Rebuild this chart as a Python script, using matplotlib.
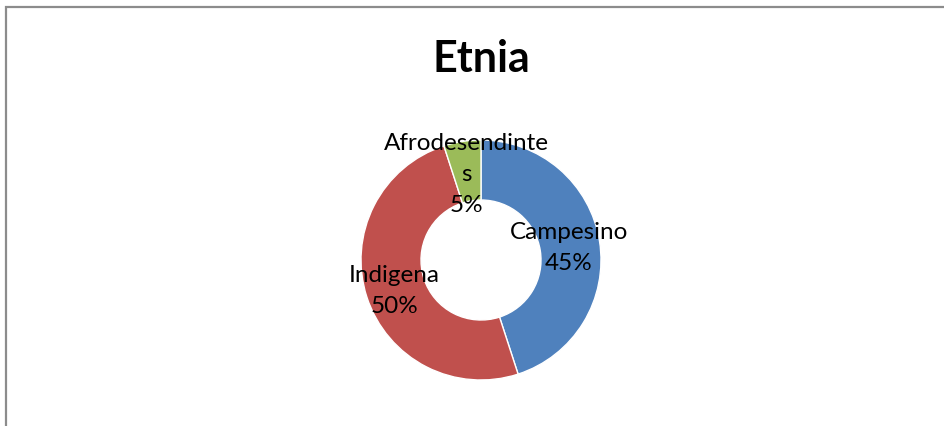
import matplotlib.pyplot as plt
from matplotlib.patches import Rectangle

# Datos de la gráfica
categorias = ['Campesino', 'Indigena', 'Afrodesendinte\ns']
porcentajes = [45, 50, 5]
colores = ['#4F81BD', '#C0504D', '#9BBB59']
# posición de cada etiqueta (en radios del anillo)
pos_etiquetas = [(0.73, 0.11), (-0.72, -0.25), (-0.12, 0.72)]

W, H = 945, 427
fig = plt.figure(figsize=(W / 100, H / 100), dpi=100)
fig.patch.set_facecolor('white')

# marco gris del área del gráfico
fig.add_artist(Rectangle((6.5 / W, -0.1), 2, (H - 7.5) / H + 0.1,
                         transform=fig.transFigure, fill=False,
                         edgecolor='#8c8c8c', lw=1.6))

fig.text(481 / W, 1 - 59 / H, 'Etnia', ha='center', va='center',
         fontsize=31, fontweight='bold', family='Lato')

# anillo centrado en (481, 261) px, radio 120 px
ax = fig.add_axes([361 / W, (H - 381) / H, 240 / W, 240 / H])
ax.pie(porcentajes, colors=colores, startangle=90, counterclock=False,
       radius=1.0, wedgeprops=dict(width=0.5, edgecolor='white', linewidth=1))
ax.set_xlim(-1, 1)
ax.set_ylim(-1, 1)
ax.set_aspect('equal')
ax.axis('off')

for cat, val, (x, y) in zip(categorias, porcentajes, pos_etiquetas):
    ax.text(x, y, f'{cat}\n{val}%', ha='center', va='center',
            fontsize=17.5, family='Lato', linespacing=1.6, clip_on=False)

fig.savefig('out.png', dpi=100)
